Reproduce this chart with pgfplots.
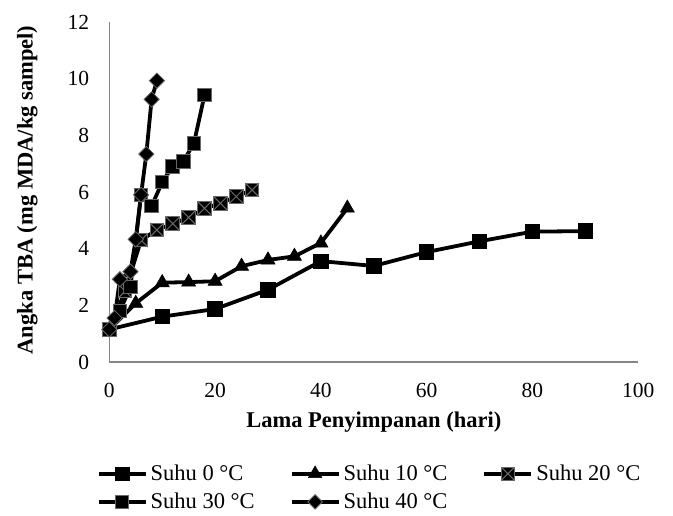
\documentclass[border=0pt]{standalone}
\usepackage{fontspec}
\setmainfont{Liberation Serif}
\usepackage{pgfplots}
\pgfplotsset{compat=1.18}
\definecolor{axgray}{RGB}{134,134,134}
\definecolor{mkgray}{RGB}{105,105,105}
\pgfdeclareplotmark{sqx}{%
  \pgfpathrectangle{\pgfpoint{-\pgfplotmarksize}{-\pgfplotmarksize}}{\pgfpoint{2\pgfplotmarksize}{2\pgfplotmarksize}}%
  \pgfusepathqfillstroke
  \pgfpathmoveto{\pgfpoint{-\pgfplotmarksize}{-\pgfplotmarksize}}%
  \pgfpathlineto{\pgfpoint{\pgfplotmarksize}{\pgfplotmarksize}}%
  \pgfpathmoveto{\pgfpoint{-\pgfplotmarksize}{\pgfplotmarksize}}%
  \pgfpathlineto{\pgfpoint{\pgfplotmarksize}{-\pgfplotmarksize}}%
  \pgfusepathqstroke}
\begin{document}
\begin{tikzpicture}
\begin{axis}[
  scale only axis, width=529pt, height=340pt,
  xmin=0, xmax=100, ymin=0, ymax=12,
  xtick={0,20,...,100}, ytick={0,2,...,12},
  axis x line*=bottom, axis y line*=left,
  axis line style={axgray, line width=1.2pt, -},
  major tick length=0pt,
  font=\fontsize{22.5}{27}\selectfont,
  tick label style={font=\fontsize{21.5}{26}\selectfont},
  /pgf/number format/assume math mode=true,
  xticklabel style={anchor=north, inner sep=0pt, yshift=-21pt},
  yticklabel style={anchor=east, inner sep=0pt, xshift=-20pt},
  xlabel={\textbf{Lama Penyimpanan (hari)}},
  ylabel={\textbf{Angka TBA (mg MDA/kg sampel)}},
  xlabel style={at={(axis description cs:0.5,0)}, anchor=center, yshift=-60pt},
  ylabel style={at={(axis description cs:-0.155,0.506)}, anchor=center},
  clip=false,
  legend columns=3,
  legend cell align=left,
  legend style={at={(axis description cs:-0.0238,-0.300)}, anchor=north west, draw=none, fill=none,
    inner sep=0pt, row sep=9pt, nodes={inner sep=1pt},
    /tikz/every odd column/.append style={column sep=2pt},
    /tikz/every even column/.append style={column sep=0pt}},
  legend image code/.code={\draw[mark repeat=2,mark phase=2,every mark/.append style={scale=0.95}] plot coordinates {(0pt,0pt) (23.5pt,0pt) (47pt,0pt)};},
  every axis plot/.append style={line width=3.8pt, black},
]
\addplot[mark=square*, mark size=7.2pt, mark options={fill=black, draw=black, line width=0.8pt}]
  coordinates {(0,1.15)(10,1.6)(20,1.87)(30,2.55)(40,3.56)(50,3.39)(60,3.88)(70,4.26)(80,4.6)(90,4.62)};
\addlegendentry{\makebox[138pt][l]{Suhu 0 °C}}
\addplot[mark=triangle*, mark size=8.2pt, mark options={fill=black, draw=black, line width=0.5pt}]
  coordinates {(0,1.15)(5,2.07)(10,2.8)(15,2.82)(20,2.85)(25,3.38)(30,3.6)(35,3.73)(40,4.2)(45,5.43)};
\addlegendentry{\makebox[138pt][l]{Suhu 10 °C}}
\addplot[mark=sqx, mark size=6.8pt, mark options={fill=black, draw=mkgray, line width=1pt}]
  coordinates {(0,1.15)(3,2.5)(6,4.3)(9,4.66)(12,4.88)(15,5.1)(18,5.42)(21,5.6)(24,5.84)(27,6.07)};
\addlegendentry{Suhu 20 °C}
\addplot[mark=square*, mark size=6.8pt, mark options={fill=black, draw=mkgray, line width=1pt}]
  coordinates {(0,1.15)(2,1.8)(4,2.65)(6,5.9)(8,5.5)(10,6.35)(12,6.9)(14,7.08)(16,7.72)(18,9.42)};
\addlegendentry{\makebox[138pt][l]{Suhu 30 °C}}
\addplot[mark=square*, mark size=5.4pt, mark options={fill=black, draw=mkgray, line width=0.8pt, rotate=45}]
  coordinates {(0,1.15)(1,1.55)(2,2.92)(4,3.19)(5,4.33)(6,5.9)(7,7.34)(8,9.27)(9,9.93)};
\addlegendentry{\makebox[138pt][l]{Suhu 40 °C}}
\end{axis}
\path (-109.3pt,-154pt) rectangle (563.7pt,362pt);
\end{tikzpicture}
\end{document}
